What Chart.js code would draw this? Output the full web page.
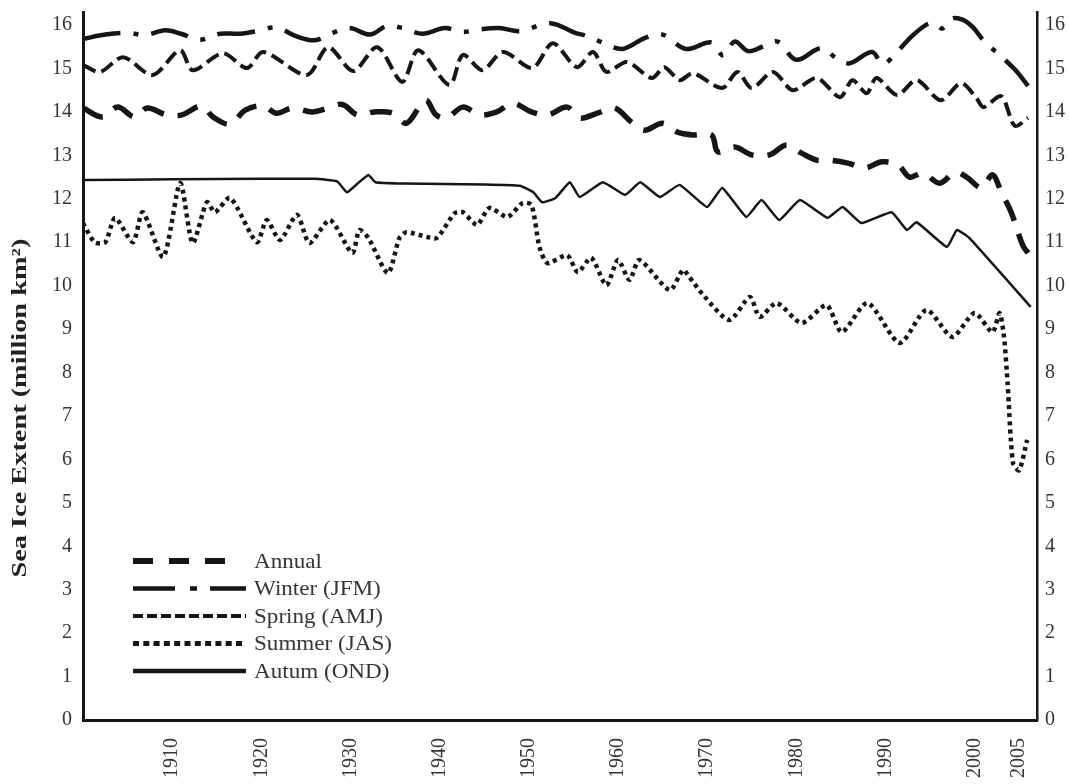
<!DOCTYPE html>
<html><head><meta charset="utf-8">
<script src="https://cdn.jsdelivr.net/npm/chart.js@4.4.1/dist/chart.umd.min.js"></script>
<style>html,body{margin:0;padding:0;background:#fff;}#wrap{width:1069px;height:784px;}</style>
</head><body><div id="wrap"><canvas id="c" width="1069" height="784"></canvas></div>
<script>
// ---- data (million km²) ----
const annualYears = [1900,1902.2,1903.9,1905.8,1907.2,1909.4,1911.1,1913.3,1914.6,1916.5,1918.2,1920.2,1921.7,1923.5,1925.7,1927.5,1929.1,1930.8,1932.7,1934.8,1936.3,1938.4,1939.6,1940.8,1942.6,1944.5,1946.4,1948.2,1950.3,1952.1,1954.3,1955.7,1957.7,1959.6,1961.5,1963,1965,1966.6,1968.4,1970.5,1971.2,1973.1,1975,1977,1978.9,1980.6,1982.3,1983.7,1985.8,1987.7,1989.6,1991.4,1992.7,1994.2,1996.1,1997.8,1999.1,2000.8,2002,2003,2004.1,2005.4,2006];
const annualValues = [14.09,13.88,14.11,13.88,14.09,13.93,13.93,14.14,13.88,13.72,14.04,14.14,13.97,14.09,14.0,14.09,14.17,13.93,14.0,13.97,13.74,14.27,13.93,13.86,14.11,13.93,14.0,14.2,14.0,13.93,14.11,13.86,13.97,14.09,13.77,13.58,13.74,13.54,13.47,13.47,13.08,13.19,13.01,13.01,13.24,13.05,12.89,12.89,12.82,12.71,12.85,12.78,12.5,12.59,12.36,12.61,12.5,12.25,12.55,12.15,11.69,10.93,10.75];

const winterYears = [1900,1902.5,1905,1907,1909.2,1911,1913.1,1915.4,1917.6,1920,1921.7,1923.8,1926,1928,1929.9,1932.2,1934.1,1936,1938.1,1940.6,1942.5,1944.5,1946.7,1949,1952.4,1955.2,1956.5,1958,1960.5,1963,1965,1967.6,1970.5,1971.8,1973.1,1974.6,1976.2,1977.9,1980,1982.8,1984.6,1986,1988.5,1989.7,1991.3,1993,1994.7,1995.5,1996.4,1997.5,1998.7,1999.8,2001.1,2002.8,2004.5,2006];
const winterValues = [15.68,15.78,15.82,15.77,15.88,15.8,15.66,15.8,15.8,15.88,15.95,15.75,15.65,15.82,15.93,15.78,15.98,15.92,15.8,15.93,15.84,15.9,15.93,15.86,16.04,15.82,15.75,15.62,15.45,15.7,15.78,15.45,15.6,15.3,15.62,15.4,15.5,15.62,15.2,15.47,15.22,15.12,15.38,15.1,15.38,15.75,16.02,16.04,15.92,16.15,16.12,15.95,15.62,15.31,14.98,14.6];

const springYears = [1900,1901.9,1904.5,1907.8,1910.9,1912.3,1915.7,1918.4,1920.2,1925.1,1927.5,1930.3,1933,1935.8,1937.6,1941.1,1942.6,1944.8,1947.1,1950.4,1952.7,1955.4,1957.2,1958.7,1961,1963.8,1965.2,1966.9,1968.4,1971.7,1973.4,1975,1977.4,1979.6,1982.3,1984.9,1986.3,1987.9,1989,1991.3,1993.5,1996.2,1998.5,2000.2,2001,2003,2004.5,2006];
const springValues = [15.08,14.92,15.26,14.85,15.42,14.96,15.35,15.01,15.38,14.85,15.49,14.94,15.49,14.69,15.42,14.62,15.31,14.96,15.38,15.01,15.58,15.03,15.38,14.92,15.15,14.78,15.03,14.73,14.89,14.55,14.92,14.55,14.92,14.5,14.78,14.34,14.73,14.43,14.78,14.39,14.73,14.27,14.66,14.32,14.11,14.36,13.68,13.86];

const summerYears = [1900,1901.3,1902.5,1903.6,1905.6,1906.7,1909,1910.9,1912.3,1913.9,1914.8,1916.5,1919.5,1920.6,1922.1,1924,1925.4,1927.7,1930.2,1931,1932,1934.2,1935.5,1936.3,1938.6,1939.7,1941.7,1942.6,1944.2,1945.6,1947.6,1949.3,1950.3,1951.2,1952.1,1954.3,1955.5,1957,1958.7,1960,1961.3,1962.4,1965.8,1967.3,1968,1969.5,1972.5,1974.8,1975.9,1977.8,1980.6,1983.4,1985.1,1988,1991.6,1994.6,1997.5,2000,2002,2002.8,2003.3,2003.7,2004.3,2005,2005.9];
const summerValues = [11.44,11.0,11.0,11.56,11.0,11.69,10.66,12.36,10.98,11.92,11.69,12.02,11.0,11.51,11.05,11.63,10.98,11.51,10.75,11.28,11.1,10.29,11.1,11.23,11.12,11.1,11.67,11.69,11.4,11.79,11.58,11.9,11.86,10.89,10.52,10.7,10.31,10.64,10.01,10.59,10.13,10.59,9.9,10.36,10.2,9.8,9.21,9.74,9.28,9.6,9.14,9.55,8.93,9.6,8.68,9.44,8.82,9.37,8.93,9.37,8.82,7.76,5.92,5.75,6.45];

const autumnYears = [1900,1910,1920,1926,1928.5,1929.6,1930.8,1932,1932.8,1936,1945,1949,1950.5,1951.5,1953,1954.6,1955.7,1958.3,1960.8,1962.5,1964.7,1966.9,1970,1971.7,1974.4,1976.1,1978.1,1980.4,1983.5,1985.2,1987.3,1990.7,1992.4,1993.5,1996.9,1998,1999.4,2006.3];
const autumnValues = [12.43,12.45,12.46,12.46,12.4,12.15,12.35,12.55,12.38,12.35,12.33,12.3,12.15,11.92,12.02,12.38,12.04,12.38,12.09,12.38,12.04,12.32,11.81,12.25,11.58,11.97,11.51,11.97,11.56,11.81,11.44,11.69,11.28,11.46,10.89,11.28,11.1,9.51];

const xTickLabels = [1910,1920,1930,1940,1950,1960,1970,1980,1990,2000,2005];
const yTickLabels = [0,1,2,3,4,5,6,7,8,9,10,11,12,13,14,15,16];
const seriesNames = ['Annual','Winter (JFM)','Spring (AMJ)','Summer (JAS)','Autum (OND)'];
const yTitle = 'Sea Ice Extent (million km\u00B2)';

// ---- chart ----
const INK = '#161616';
const TXT = '#34343c';
const SERIF = '"Liberation Serif", "DejaVu Serif", serif';
const pts = (xs, ys) => xs.map((x, i) => ({x: x, y: ys[i]}));

const styles = [
  {w: 5.5, dash: [22, 14], t: 0.35, lw: 6,   ldash: [20, 16],        lend: 227},
  {w: 4.5, dash: [38, 13, 5, 13], t: 0.35, lw: 4.5, ldash: [42, 15, 7, 13], lend: 246},
  {w: 4,   dash: [14, 6], t: 0.3, lw: 4,   ldash: [10, 4],         lend: 246},
  {w: 4.5, dash: [4, 4], t: 0.25, lw: 5,   ldash: [6, 4.3],        lend: 246},
  {w: 2.5, dash: [], t: 0.12,     lw: 4.5, ldash: [],              lend: 246}
];
const xsArr = [annualYears, winterYears, springYears, summerYears, autumnYears];
const ysArr = [annualValues, winterValues, springValues, summerValues, autumnValues];

const datasets = seriesNames.map((name, i) => ({
  label: name,
  data: pts(xsArr[i], ysArr[i]),
  borderColor: INK,
  backgroundColor: INK,
  borderWidth: styles[i].w,
  borderDash: styles[i].dash,
  borderCapStyle: 'butt',
  borderJoinStyle: 'round',
  tension: styles[i].t,
  pointRadius: 0,
  fill: false
}));

const legendAndTitle = {
  id: 'legendAndTitle',
  afterDraw(chart) {
    const ctx = chart.ctx;
    ctx.save();
    chart.data.datasets.forEach((ds, i) => {
      const st = styles[i];
      const y = 561 + i * 27.5;
      ctx.beginPath();
      ctx.setLineDash(st.ldash);
      ctx.lineWidth = st.lw;
      ctx.strokeStyle = ds.borderColor;
      ctx.lineCap = 'butt';
      ctx.moveTo(133, y);
      ctx.lineTo(st.lend, y);
      ctx.stroke();
      ctx.setLineDash([]);
      ctx.fillStyle = TXT;
      ctx.font = '21px ' + SERIF;
      ctx.textAlign = 'left';
      ctx.textBaseline = 'middle';
      ctx.save();
      ctx.translate(254, y + 1);
      const w = ctx.measureText(ds.label).width;
      ctx.scale(1.1, 1);
      ctx.fillText(ds.label, 0, 0);
      ctx.restore();
    });
    // y-axis title
    ctx.translate(21, 408);
    ctx.rotate(-Math.PI / 2);
    ctx.font = 'bold 21px ' + SERIF;
    const tw = ctx.measureText(yTitle).width;
    ctx.scale(339 / tw, 1);
    ctx.fillStyle = '#222';
    ctx.textAlign = 'center';
    ctx.textBaseline = 'middle';
    ctx.fillText(yTitle, 0, 0);
    ctx.restore();
  }
};

const yCommon = (pos, pad, width, bw) => ({
  type: 'linear', position: pos, min: 0, max: 16.3,
  grid: {display: false, drawTicks: false},
  border: {display: true, width: bw, color: INK},
  ticks: {font: {family: SERIF, size: 20}, color: TXT, padding: pad},
  afterBuildTicks: s => { s.ticks = yTickLabels.map(v => ({value: v})); },
  afterFit: s => { s.width = width; s.paddingTop = 0; s.paddingBottom = 0; }
});

new Chart(document.getElementById('c'), {
  type: 'line',
  data: {datasets: datasets},
  options: {
    responsive: false,
    animation: false,
    devicePixelRatio: 1,
    layout: {padding: {top: 12, left: 0, right: 0, bottom: 0}},
    plugins: {legend: {display: false}, tooltip: {enabled: false}},
    scales: {
      x: {
        type: 'linear', min: 1900, max: 2007,
        grid: {display: false, drawTicks: false},
        border: {display: true, width: 3, color: INK},
        ticks: {font: {family: SERIF, size: 20}, color: TXT, padding: 18,
                minRotation: 90, maxRotation: 90, autoSkip: false,
                callback: v => String(v)},
        afterBuildTicks: s => { s.ticks = xTickLabels.map(v => ({value: v})); },
        afterFit: s => { s.height = 64; s.paddingLeft = 0; s.paddingRight = 0; }
      },
      y: yCommon('left', 11, 83, 3),
      y2: yCommon('right', 8, 32, 2.5)
    }
  },
  plugins: [legendAndTitle]
});
</script>
</body></html>
